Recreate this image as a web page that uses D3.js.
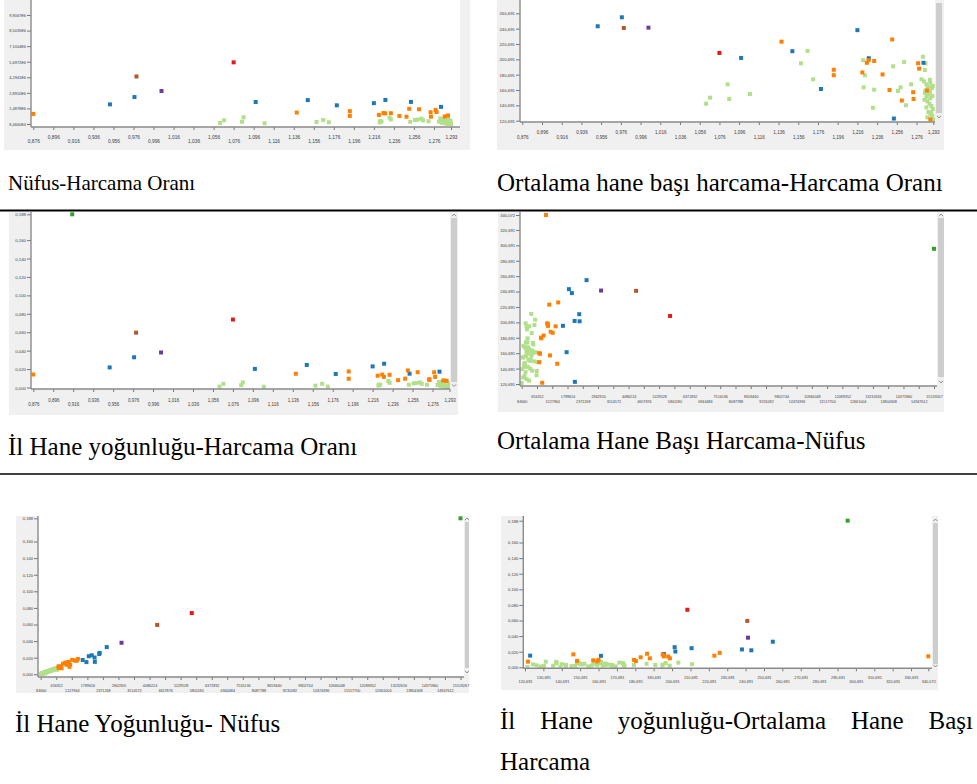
<!DOCTYPE html>
<html><head><meta charset="utf-8">
<script src="https://cdn.jsdelivr.net/npm/d3@7"></script>
<style>body{margin:0;background:#fff} svg{display:block}</style>
</head><body>
<svg id="c" width="977" height="784"></svg>
<script>
// ---------------- DATA ----------------
const kumeRenkleri = ["#b2df8a","#ff7f00","#1f78b4","#e31a1c","#b15928","#6a3d9a","#33a02c"];

const kume = [6,3,4,5,
  2,2,2,2,2,2,2,2,2,
  1,1,1,1,1,1,1,1,1,1,1,1,1,1,1,1,1,1,
  0,0,0,0,0,0,0,0,0,0,0,0,0,0,0,0,0,0,0,0,0,0,0,
  0,0,0,0,0,0,0,0,0,0,0,0,0,0,0,0,0,0,0,0,0,0,0,0,0,0,0];

const harcamaOrani = [0.915,1.076,0.979,1.004,
  0.9525,0.977,1.098,1.150,1.179,1.216,1.2275,1.253,1.283,
  0.876,1.139,1.192,1.192,1.221,1.2256,1.2273,1.233,1.2415,1.2486,1.2513,1.2611,1.2726,1.273,1.2776,1.2786,1.2868,1.290,
  1.0625,1.0665,1.0843,1.0859,1.1069,1.1587,1.1654,1.1711,1.2218,1.2236,1.2223,1.2317,1.233,1.2523,1.2571,1.2598,1.2634,1.2652,1.2705,1.2824,1.2851,1.2844,1.281,
  1.2835,1.2860,1.2880,1.2900,1.2870,1.2850,1.2895,1.2915,1.2880,1.2860,1.2900,1.2840,1.2920,1.2870,1.2890,1.2910,1.2860,1.2925,1.2880,1.2900,1.2870,1.2920,1.2930,1.2895,1.2925,1.2845,1.2910];

const nufus = [15519267,5639076,4367251,3056120,
  1852000,2513000,2065000,2237000,1766000,1963000,2252000,2075000,1628000,
  993000,1116000,1243000,817000,906000,1067000,1041000,1056000,810000,742000,1452000,1414000,1142000,742000,1355000,1168000,768000,854000,
  180000,420000,290000,690000,150000,270000,440000,240000,230000,300000,350000,650000,500000,280000,450000,480000,560000,400000,330000,590000,370000,460000,300000,
  520000,210000,380000,150000,610000,290000,450000,260000,120000,340000,560000,200000,420000,180000,310000,95000,480000,230000,640000,140000,360000,270000,85000,500000,330000,250000,190000];

const yogunluk = [0.188,0.0738,0.0595,0.0380,
  0.0218,0.0328,0.0202,0.0245,0.0147,0.0229,0.0258,0.0150,0.0172,
  0.0141,0.0149,0.0174,0.0095,0.0128,0.0140,0.0115,0.0138,0.0080,0.0096,0.0185,0.0166,0.0090,0.0082,0.0165,0.0115,0.0077,0.0073,
  0.0010,0.0040,0.0025,0.0055,0.0008,0.0020,0.0040,0.0010,0.0020,0.0030,0.0030,0.0070,0.0050,0.0030,0.0045,0.0048,0.0055,0.0040,0.0030,0.0060,0.0035,0.0045,0.0028,
  0.0060,0.0020,0.0040,0.0012,0.0068,0.0030,0.0050,0.0024,0.0010,0.0036,0.0062,0.0018,0.0045,0.0015,0.0032,0.0006,0.0052,0.0021,0.0072,0.0011,0.0038,0.0026,0.0003,0.0055,0.0034,0.0024,0.0017];

const haneHarcama = [296.2,209.0,241.6,242.0,
  243.8,255.5,202.5,211.3,162.0,238.7,202.1,123.5,196.2,
  340.072,223.7,187.1,180.0,183.6,196.2,199.5,198.6,181.0,160.7,226.6,147.0,157.8,149.0,195.6,188.6,160.0,122.3,
  142.9,150.7,168.1,149.0,155.5,195.5,211.6,174.7,199.4,179.9,164.2,137.6,161.1,191.6,159.4,164.2,197.2,140.8,168.1,204.1,195.5,186.8,174.7,
  172,168,165,170,162,160,158,163,155,152,150,148,153,146,143,140,138,136,132,129,125,127,122,174,166,157,131];

// ticks
const oranTicks = [0.876,0.896,0.916,0.936,0.956,0.976,0.996,1.016,1.036,1.056,1.076,1.096,1.116,1.136,1.156,1.176,1.196,1.216,1.236,1.256,1.276,1.293];
const oranLabels = ["0,876","0,896","0,916","0,936","0,956","0,976","0,996","1,016","1,036","1,056","1,076","1,096","1,116","1,136","1,156","1,176","1,196","1,216","1,236","1,256","1,276","1,293"];

const nufusTicks = [84660,656312,1227964,1799616,2371268,2942920,3514572,4086224,4657876,5229528,5801180,6372832,6944484,7516136,8087788,8659440,9231092,9802744,10374396,10946048,11517700,12089352,12661004,13232656,13804308,14375960,14947612,15519267];
const nufusLabels = ["84660","656312","1227964","1799616","2371268","2942920","3514572","4086224","4657876","5229528","5801180","6372832","6944484","7516136","8087788","8659440","9231092","9802744","10374396","10946048","11517700","12089352","12661004","13232656","13804308","14375960","14947612","15519267"];

const nufusSciTicks = [84660,1487806,2890952,4294098,5697244,7100390,8503536,9906682];
const nufusSciLabels = ["8,4660E4","1,4878E6","2,8910E6","4,2941E6","5,6972E6","7,1004E6","8,5035E6","9,9067E6"];

const harcamaTicks20 = [120.691,140.691,160.691,180.691,200.691,220.691,240.691,260.691,280.691,300.691,320.691,340.072];
const harcamaLabels20 = ["120,691","140,691","160,691","180,691","200,691","220,691","240,691","260,691","280,691","300,691","320,691","340,072"];

const harcamaTicks10 = [120.691,130.691,140.691,150.691,160.691,170.691,180.691,190.691,200.691,210.691,220.691,230.691,240.691,250.691,260.691,270.691,280.691,290.691,300.691,310.691,320.691,330.691,340.072];
const harcamaLabels10 = ["120,691","130,691","140,691","150,691","160,691","170,691","180,691","190,691","200,691","210,691","220,691","230,691","240,691","250,691","260,691","270,691","280,691","290,691","300,691","310,691","320,691","330,691","340,072"];

const yogTicks = [0,0.02,0.04,0.06,0.08,0.10,0.12,0.14,0.16,0.188];
const yogLabels = ["0,000","0,020","0,040","0,060","0,080","0,100","0,120","0,140","0,160","0,188"];

const basliklar = ["Nüfus-Harcama Oranı","Ortalama hane başı harcama-Harcama Oranı",
  "İl Hane yoğunluğu-Harcama Oranı","Ortalama Hane Başı Harcama-Nüfus",
  "İl Hane Yoğunluğu- Nüfus"];
const sonBaslik1 = ["İl","Hane","yoğunluğu-Ortalama","Hane","Başı"];
const sonBaslik2 = "Harcama";

// ---------------- DRAW ----------------
const svg = d3.select("#c");
const SANS = "'Liberation Sans', Arial, sans-serif";
const SERIF = "'Liberation Serif', 'Times New Roman', serif";
const CAP = 25;

const order = d3.range(kume.length).sort((a,b)=> (kume[a]===0?0:1)-(kume[b]===0?0:1) || a-b);

function drawPanel(p){
  const g = svg.append("g");
  g.append("rect").attr("x",p.outer[0]).attr("y",p.outer[1]).attr("width",p.outer[2]).attr("height",p.outer[3]).attr("fill","#f0f0f0");
  g.append("rect").attr("x",p.plot[0]).attr("y",p.plot[1]).attr("width",p.plot[2]).attr("height",p.plot[3]).attr("fill","#fff");
  const x = d3.scaleLinear().domain(p.xDomain).range(p.xRange);
  const y = d3.scaleLinear().domain(p.yDomain).range(p.yRange);
  const cid = "clip"+p.id;
  svg.append("clipPath").attr("id",cid).append("rect")
    .attr("x",p.plot[0]).attr("y",p.plot[1]).attr("width",p.plot[2]).attr("height",p.plot[3]);
  g.append("g").attr("clip-path",`url(#${cid})`)
    .selectAll("rect").data(order).join("rect")
    .attr("x",i=>x(p.xv[i])-2).attr("y",i=>y(p.yv[i])-2)
    .attr("width",4).attr("height",4)
    .attr("fill",i=>kumeRenkleri[kume[i]]);

  // x axis
  const xa = g.append("g").attr("transform",`translate(0,${p.xAxisY})`)
    .call(d3.axisBottom(x).tickValues(p.xTicks).tickFormat((d,i)=>p.xLabels[i]).tickSize(3).tickSizeOuter(0));
  xa.select(".domain").remove();
  xa.selectAll(".tick line").attr("stroke","#777");
  xa.selectAll(".tick text")
    .attr("y",(d,i)=>(i%2? p.rowUp : p.rowLow) - p.xAxisY)
    .attr("dy","0.35em").attr("font-size",p.fsX).attr("font-family",SANS).attr("fill","#3c3c3c");

  // y axis
  const top = p.plot[1]-1, bot = p.plot[1]+p.plot[3];
  const lab = new Map(p.yTicks.map((v,i)=>[v,p.yLabels[i]]));
  const yt = p.yTicks.filter(v=> y(v)>=top && y(v)<=bot);
  const ya = g.append("g").attr("transform",`translate(${p.yAxisX},0)`)
    .call(d3.axisLeft(y).tickValues(yt).tickFormat(v=>lab.get(v)).tickSize(4).tickPadding(1).tickSizeOuter(0));
  ya.select(".domain").remove();
  ya.selectAll(".tick line").attr("stroke","#777");
  ya.selectAll(".tick text").attr("font-size",p.fsY).attr("font-family",SANS).attr("fill","#3c3c3c").attr("dy","0.35em");

  // axis lines
  g.append("line").attr("x1",p.yAxisX).attr("x2",p.yAxisX).attr("y1",p.plot[1]).attr("y2",p.xAxisY)
    .attr("stroke","#8a8a8a").attr("stroke-width",1.4);
  g.append("line").attr("x1",p.yAxisX).attr("x2",p.plot[0]+p.plot[2]).attr("y1",p.xAxisY).attr("y2",p.xAxisY)
    .attr("stroke","#8a8a8a").attr("stroke-width",1.4);

  // scrollbar
  if(p.scroll){
    const s = p.scroll;
    g.append("rect").attr("x",s.x).attr("y",s.y0).attr("width",s.w).attr("height",s.y1-s.y0).attr("fill","#cdcdcd");
    const cx = s.x + s.w/2;
    if(s.up!=null) g.append("path").attr("d",`M${cx-2},${s.up+1.2}L${cx},${s.up-1}L${cx+2},${s.up+1.2}`).attr("fill","none").attr("stroke","#777").attr("stroke-width",0.8);
    if(s.down!=null) g.append("path").attr("d",`M${cx-2},${s.down-1.2}L${cx},${s.down+1}L${cx+2},${s.down-1.2}`).attr("fill","none").attr("stroke","#777").attr("stroke-width",0.8);
  }
}

const panels = [
  {id:1, xv:harcamaOrani, yv:nufus, outer:[4,0,466,150], plot:[31,0,429,127],
   xDomain:[0.876,1.293], xRange:[33.3,451], yDomain:[84660,15519267], yRange:[124,-47.3],
   xTicks:oranTicks, xLabels:oranLabels, yTicks:nufusSciTicks, yLabels:nufusSciLabels,
   xAxisY:127, yAxisX:31, rowUp:137, rowLow:141.7, fsX:4.8, fsY:3.9, scroll:null},
  {id:2, xv:harcamaOrani, yv:haneHarcama, outer:[497,0,447,150], plot:[520,0,415,122],
   xDomain:[0.876,1.293], xRange:[522.3,933.3], yDomain:[120.691,340.072], yRange:[120.7,-47.6],
   xTicks:oranTicks, xLabels:oranLabels, yTicks:harcamaTicks20, yLabels:harcamaLabels20,
   xAxisY:122, yAxisX:520, rowUp:132.7, rowLow:137.3, fsX:4.6, fsY:4.3,
   scroll:{x:936,w:6,y0:3,y1:113,up:null,down:117}},
  {id:3, xv:harcamaOrani, yv:yogunluk, outer:[9,212,449,203], plot:[31,212,419,177],
   xDomain:[0.876,1.293], xRange:[33.3,449.5], yDomain:[0,0.188], yRange:[387.5,214.3],
   xTicks:oranTicks, xLabels:oranLabels, yTicks:yogTicks, yLabels:yogLabels,
   xAxisY:389, yAxisX:31, rowUp:400.3, rowLow:404.3, fsX:4.5, fsY:4.3,
   scroll:{x:451,w:6,y0:218,y1:382,up:215,down:385.5}},
  {id:4, xv:nufus, yv:haneHarcama, outer:[498,212,446,200], plot:[520,212,417,174],
   xDomain:[84660,15519267], xRange:[521.7,934], yDomain:[120.691,340.072], yRange:[384,215],
   xTicks:nufusTicks, xLabels:nufusLabels, yTicks:harcamaTicks20, yLabels:harcamaLabels20,
   xAxisY:386, yAxisX:520, rowUp:396.7, rowLow:401.7, fsX:3.7, fsY:4.1,
   scroll:{x:938,w:6,y0:218,y1:377,up:215,down:382}},
  {id:5, xv:nufus, yv:yogunluk, outer:[16,516,453,177], plot:[38,516,426,161],
   xDomain:[84660,15519267], xRange:[40.7,460.5], yDomain:[0,0.188], yRange:[674.3,518.3],
   xTicks:nufusTicks, xLabels:nufusLabels, yTicks:yogTicks, yLabels:yogLabels,
   xAxisY:677, yAxisX:38, rowUp:685.7, rowLow:690.5, fsX:3.7, fsY:4.1,
   scroll:{x:465,w:4,y0:522,y1:668,up:519,down:672}},
  {id:6, xv:haneHarcama, yv:yogunluk, outer:[501,516,437,174], plot:[523,516,409,152],
   xDomain:[120.691,340.072], xRange:[525,928.3], yDomain:[0,0.188], yRange:[667.3,520.7],
   xTicks:harcamaTicks10, xLabels:harcamaLabels10, yTicks:yogTicks, yLabels:yogLabels,
   xAxisY:668.3, yAxisX:523.3, rowUp:678, rowLow:682, fsX:3.9, fsY:4.1,
   scroll:{x:933,w:5,y0:523,y1:664,up:520,down:666}}
];
panels.forEach(drawPanel);

// separators
svg.append("line").attr("x1",0).attr("x2",977).attr("y1",210.5).attr("y2",210.5).attr("stroke","#000").attr("stroke-width",2);
svg.append("line").attr("x1",0).attr("x2",977).attr("y1",474).attr("y2",474).attr("stroke","#000").attr("stroke-width",1.6);

// captions
const caps = [[8,190,21],[497,191,CAP],[8,455,CAP],[497,449,CAP],[15,732,CAP]];
basliklar.forEach((t,i)=>{
  svg.append("text").attr("x",caps[i][0]).attr("y",caps[i][1]).text(t)
    .attr("font-family",SERIF).attr("font-size",caps[i][2]).attr("fill","#000");
});
// justified line
const words = svg.append("g").selectAll("text").data(sonBaslik1).join("text")
  .attr("y",729).text(d=>d).attr("font-family",SERIF).attr("font-size",CAP).attr("fill","#000");
const widths = words.nodes().map(n=>n.getComputedTextLength());
const x0 = 500, x1 = 973;
const gap = (x1-x0-d3.sum(widths))/(widths.length-1);
let cur = x0;
words.each(function(d,i){ d3.select(this).attr("x",cur); cur += widths[i]+gap; });
svg.append("text").attr("x",500).attr("y",770).text(sonBaslik2)
  .attr("font-family",SERIF).attr("font-size",CAP).attr("fill","#000");
</script>
</body></html>
